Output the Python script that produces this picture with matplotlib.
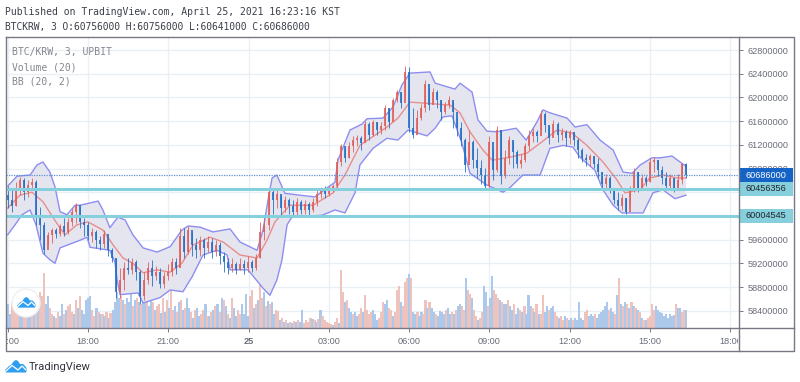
"""BTC/KRW 3-minute chart with volume and Bollinger bands, TradingView look."""
import numpy as np
import matplotlib
matplotlib.use("Agg")
import matplotlib.pyplot as plt
from matplotlib.patches import Rectangle, Circle, Polygon
from matplotlib.transforms import Bbox

W, H = 800, 382
MONO = "DejaVu Sans Mono"
SANS = "Liberation Sans"

# price in millions of KRW, time in hours after 15:00 on April 24
closes = [
    60.27, 60.17, 60.44, 60.61, 60.41, 60.52, 60.57, 60.02, 59.85, 59.42,
    59.68, 59.76, 59.69, 59.83, 59.73, 59.90, 60.07, 60.18, 59.90, 59.85,
    59.66, 59.73, 59.59, 59.52, 59.69, 59.42, 59.29, 58.72, 58.92, 59.12,
    59.09, 59.22, 59.05, 58.65, 58.92, 59.12, 58.98, 59.05, 58.85, 58.98,
    59.05, 59.22, 59.12, 59.66, 59.39, 59.76, 59.51, 59.42, 59.59, 59.46,
    59.56, 59.39, 59.51, 59.32, 59.22, 59.12, 59.19, 59.09, 59.19, 59.12,
    59.22, 59.12, 59.29, 59.73, 59.85, 60.41, 60.27, 60.37, 60.13, 60.27,
    60.17, 60.07, 60.24, 60.10, 60.20, 60.10, 60.24, 60.37, 60.44, 60.37,
    60.44, 60.50, 60.91, 61.18, 60.98, 61.18, 61.28, 61.32, 61.23, 61.55,
    61.37, 61.59, 61.45, 61.52, 61.82, 61.59, 61.96, 62.09, 61.91, 62.43,
    61.48, 61.37, 61.65, 61.82, 62.23, 61.87, 62.09, 61.96, 61.75, 61.87,
    61.96, 61.75, 61.48, 61.28, 60.86, 61.25, 60.94, 60.81, 60.69, 60.50,
    61.25, 60.77, 61.45, 60.67, 60.98, 61.28, 61.08, 60.87, 60.94, 61.18,
    61.35, 61.42, 61.35, 61.72, 61.53, 61.32, 61.55, 61.37, 61.42, 61.32,
    61.42, 61.28, 61.11, 60.98, 60.94, 61.01, 60.87, 60.74, 60.54, 60.64,
    60.47, 60.27, 60.17, 60.30, 60.07, 60.44, 60.74, 60.47, 60.64, 60.57,
    60.91, 60.94, 60.77, 60.64, 60.50, 60.64, 60.47, 60.61, 60.87, 60.686,
]
highs = [
    60.50, 60.44, 60.57, 60.66, 60.64, 60.61, 60.64, 60.61, 60.15, 59.90,
    59.73, 59.80, 59.80, 59.86, 59.97, 59.97, 60.13, 60.22, 60.15, 59.97,
    59.90, 59.80, 59.76, 59.66, 59.76, 59.59, 59.46, 59.29, 59.12, 59.22,
    59.29, 59.29, 59.26, 59.09, 59.05, 59.22, 59.26, 59.15, 59.12, 59.05,
    59.19, 59.29, 59.29, 59.80, 59.80, 59.83, 59.73, 59.63, 59.66, 59.63,
    59.66, 59.63, 59.59, 59.56, 59.39, 59.29, 59.29, 59.22, 59.29, 59.26,
    59.32, 59.26, 59.35, 59.90, 59.97, 60.47, 60.47, 60.44, 60.34, 60.34,
    60.30, 60.27, 60.30, 60.27, 60.27, 60.24, 60.30, 60.44, 60.49, 60.50,
    60.50, 60.54, 60.98, 61.21, 61.15, 61.25, 61.35, 61.37, 61.35, 61.60,
    61.59, 61.62, 61.59, 61.59, 61.87, 61.82, 61.99, 62.13, 62.09, 62.53,
    62.51, 61.82, 61.79, 61.89, 62.29, 62.16, 62.16, 62.13, 61.96, 61.92,
    62.02, 61.92, 61.65, 61.59, 61.32, 61.45, 61.28, 61.15, 60.94, 60.81,
    61.35, 61.11, 61.52, 61.45, 61.11, 61.35, 61.25, 61.11, 61.04, 61.23,
    61.45, 61.48, 61.45, 61.79, 61.75, 61.52, 61.62, 61.59, 61.48, 61.45,
    61.45, 61.42, 61.32, 61.15, 61.04, 61.04, 61.01, 60.98, 60.74, 60.71,
    60.67, 60.47, 60.40, 60.37, 60.30, 60.50, 60.81, 60.74, 60.71, 60.67,
    60.98, 61.00, 60.94, 60.84, 60.74, 60.71, 60.64, 60.71, 60.89, 60.90,
]
lows = [
    60.13, 60.07, 60.17, 60.35, 60.27, 60.32, 60.44, 59.85, 59.59, 59.35,
    59.52, 59.54, 59.63, 59.66, 59.66, 59.69, 59.83, 59.88, 59.80, 59.66,
    59.59, 59.56, 59.46, 59.42, 59.46, 59.32, 59.22, 58.61, 58.61, 58.75,
    59.02, 59.02, 58.92, 58.51, 58.58, 58.85, 58.82, 58.92, 58.78, 58.78,
    58.92, 58.98, 59.02, 59.22, 59.29, 59.35, 59.32, 59.29, 59.32, 59.29,
    59.39, 59.29, 59.32, 59.19, 59.05, 59.02, 59.05, 59.02, 59.09, 59.02,
    59.05, 59.05, 59.09, 59.29, 59.59, 59.76, 60.03, 60.13, 60.00, 60.07,
    60.03, 60.00, 60.00, 60.03, 60.03, 60.00, 60.07, 60.17, 60.30, 60.30,
    60.34, 60.40, 60.44, 60.84, 60.91, 60.98, 61.08, 61.18, 61.11, 61.28,
    61.28, 61.35, 61.37, 61.38, 61.45, 61.48, 61.75, 61.92, 61.82, 62.02,
    61.42, 61.32, 61.38, 61.62, 61.75, 61.79, 61.89, 61.82, 61.62, 61.72,
    61.82, 61.48, 61.35, 61.18, 60.74, 60.98, 60.81, 60.64, 60.54, 60.47,
    60.47, 60.61, 60.74, 60.54, 60.64, 60.87, 60.81, 60.81, 60.81, 60.91,
    61.11, 61.25, 61.25, 61.45, 61.42, 61.21, 61.38, 61.25, 61.28, 61.18,
    61.21, 61.18, 60.98, 60.91, 60.84, 60.84, 60.81, 60.64, 60.47, 60.44,
    60.38, 60.20, 60.10, 60.10, 60.03, 60.24, 60.40, 60.40, 60.44, 60.50,
    60.57, 60.74, 60.67, 60.54, 60.44, 60.44, 60.40, 60.44, 60.54, 60.64,
]
first_open = 60.35

# bar heights in chart pixels, sign is the bar colour (+ red up, - blue down)
volumes = [
    -24, -14, 26, 24, 22, 18, -14, -16, 20, 18, -12, -14, 20, -20, 16, -28, 36, 32, 55, -24,
    -32, 20, 14, -12, 10, 16, -12, -24, 14, -18, 22, 24, 16, -14, 28, -20, 32, -18, -14, -28,
    -30, -32, 18, 12, -20, 16, -14, 14, -12, 16, -10, 15, -18, -26, -36, -30, 32, -28, 24, -30,
    -26, -34, 22, -28, 30, -26, 24, -34, -30, 28, -22, -32, 26, -18, 22, 24, -15, 30, -16, 28,
    -20, 58, 18, -22, 16, -26, 28, -18, 20, -30, -20, 16, -10, 18, -20, -12, 14, 18, -24, 12,
    -12, 16, -18, 22, -24, 16, -30, 28, -22, 14, -10, 30, -20, -12, 18, 14, -24, -14, -34, -12,
    32, 38, -20, 24, -28, 46, 30, -36, 22, -27, 24, -26, -14, 18, 17, -8, 10, -6, 8, -5,
    6, -5, 7, -6, 8, -6, -18, 5, 8, 6, 10, -9, 8, -6, 9, -18, 12, 8, 6, 5,
    4, -3, 6, 10, -5, 58, 36, -26, 28, -20, -16, 14, -16, -12, 14, 20, -16, 33, 18, 14,
    16, -18, -14, -8, 10, 16, 26, -24, -28, 20, 18, -12, 16, 38, 42, -26, 22, 46, 50, -54,
    50, -16, -14, 16, -12, -16, 14, 28, -20, 26, -20, -16, 14, -12, -17, -16, -14, 18, -20, -14,
    16, -14, 18, -22, -24, 22, 18, -50, 38, 34, -30, 18, 12, -8, 10, 16, -42, -36, 22, -30,
    -52, 38, 34, 30, -28, 26, -24, -24, 28, -22, -18, 24, -14, -20, 18, -16, 22, -14, -33, -22,
    20, -16, 24, -14, 14, 33, -16, -22, 18, -20, -22, 16, 12, -10, 12, 8, -12, 10, -8, -10,
    8, -10, -8, -26, -10, -8, 16, 18, -12, -14, -12, 14, -10, -14, -16, -18, -22, -26, 18, -20,
    -16, 14, -33, 50, -24, 22, -26, 24, -20, 26, -22, 20, -18, 16, -10, 8, -8, 10, 12, 24,
    18, -22, -18, -16, -15, -12, -14, -10, -14, -12, -13, 24, -20, -20, 16, 18, -18,
]

upper_t = [
    0.00, 0.35, 0.84, 1.10, 1.32, 1.58, 1.77, 1.96, 2.22, 2.52, 2.71, 3.38, 3.56, 3.82, 4.12,
    4.39, 4.68, 5.06, 5.58, 6.07, 6.51, 6.74, 7.19, 7.67, 8.31, 8.68, 9.32, 9.54, 9.73, 9.88,
    10.06, 10.36, 10.92, 11.48, 12.23, 12.34, 12.79, 13.24, 13.43, 14.02, 14.40, 14.73, 15.03,
    15.78, 15.97, 16.71, 16.90, 17.35, 17.57, 17.91, 18.28, 19.00, 19.37, 19.78, 20.00, 20.26,
    20.90, 21.20, 21.64, 22.13, 22.62, 22.99, 23.33, 23.63, 24.07, 24.37, 24.82, 25.12, 25.34,
]
upper = [
    60.50, 60.67, 60.69, 60.86, 60.91, 60.74, 60.49, 60.07, 60.02, 60.18, 60.18, 60.25, 60.10, 59.80, 59.98,
    59.93, 59.68, 59.46, 59.39, 59.48, 59.76, 59.83, 59.81, 59.73, 59.78, 59.56, 59.42, 59.76, 60.27, 60.64,
    60.69, 60.38, 60.35, 60.32, 60.57, 60.94, 61.45, 61.55, 61.64, 61.65, 61.84, 62.21, 62.41,
    62.43, 62.24, 62.14, 62.24, 62.09, 61.62, 61.43, 61.42, 61.48, 61.28, 61.59, 61.79, 61.74,
    61.65, 61.50, 61.54, 61.28, 61.11, 60.74, 60.72, 60.86, 60.98, 60.98, 61.01, 60.91, 60.84,
]
lower_t = [
    0.00, 0.28, 0.54, 0.84, 1.06, 1.32, 1.58, 1.77, 1.96, 2.71, 2.97, 3.08, 3.82, 4.01, 4.09,
    4.20, 4.87, 5.06, 5.69, 6.07, 6.55, 6.89, 7.30, 7.82, 8.20, 8.31, 8.98, 9.54, 9.80, 10.06,
    10.25, 10.44, 10.62, 11.74, 12.23, 12.60, 12.98, 13.16, 13.65, 14.17, 14.58, 14.96, 15.67,
    15.97, 16.26, 16.60, 16.97, 17.27, 17.91, 18.51, 18.77, 19.25, 19.89, 20.26, 20.75, 21.12,
    21.38, 21.94, 22.24, 22.62, 22.95, 23.74, 24.11, 24.48, 24.93, 25.34,
]
lower = [
    59.68, 59.85, 60.02, 60.10, 59.85, 59.37, 59.26, 59.20, 59.46, 59.59, 59.64, 59.47, 59.42, 59.22, 58.92,
    58.67, 58.70, 58.53, 58.62, 58.75, 58.72, 58.97, 59.34, 59.42, 59.34, 59.09, 59.09, 58.78, 58.66, 58.92,
    59.26, 59.85, 59.98, 60.01, 60.10, 60.05, 60.39, 60.86, 61.14, 61.31, 61.28, 61.45, 61.35,
    61.48, 61.67, 61.69, 61.23, 60.72, 60.52, 60.40, 60.48, 60.69, 60.69, 61.14, 61.19, 61.16,
    60.99, 60.77, 60.44, 60.18, 60.05, 60.05, 60.39, 60.44, 60.29, 60.35,
]
basis_t = [
    0.00, 0.46, 0.91, 1.32, 1.70, 2.14, 2.59, 3.00, 3.56, 3.94, 4.31, 4.68, 5.06, 5.58, 6.07,
    6.51, 6.93, 7.56, 8.05, 8.68, 9.32, 9.69, 9.99, 10.55, 11.41, 12.16, 12.60, 13.16, 14.17,
    14.58, 15.03, 15.67, 16.53, 16.90, 17.27, 17.76, 18.10, 18.77, 19.40, 19.96, 20.53, 21.08,
    21.64, 22.24, 22.76, 23.06, 23.62, 23.99, 24.48, 25.00, 25.34,
]
basis = [
    60.13, 60.35, 60.40, 60.24, 59.97, 59.68, 59.85, 59.90, 59.76, 59.51, 59.29, 59.20, 59.04, 59.09, 59.05,
    59.20, 59.51, 59.64, 59.56, 59.34, 59.29, 59.59, 59.90, 60.18, 60.18, 60.39, 60.69, 61.19, 61.50,
    61.65, 61.92, 61.90, 61.87, 61.74, 61.42, 61.11, 60.94, 60.99, 61.06, 61.25, 61.45, 61.40,
    61.19, 60.91, 60.61, 60.39, 60.44, 60.64, 60.69, 60.64, 60.64,
]

last_price = 60686000
levels = [60456356, 60004545]
y_ticks = [58400000 + 400000 * i for i in range(12)]
hidden_ticks = [60000000, 60400000]     # sit fully behind the level tags
x_hours = [0, 3, 6, 9, 12, 15, 18, 21, 24, 27]
x_labels = ["15:00", "18:00", "21:00", "25", "03:00", "06:00", "09:00", "12:00", "15:00", "18:00"]
headers = [
    ("Published on TradingView.com, April 25, 2021 16:23:16 KST", 7.03),
    ("BTCKRW, 3 O:60756000 H:60756000 L:60641000 C:60686000", 6.9),
]
legend_rows = ["BTC/KRW, 3, UPBIT", "Volume (20)", "BB (20, 2)"]

UP, DOWN = "#e0605c", "#2670c6"
UP_VOL, DOWN_VOL = "#efc3bd", "#acc9eb"
GRID = "#e8f0f6"
FRAME = "#777a85"
TEAL = "#86d0dd"
LAST_BLUE = "#1563c4"
TXT = "#6a6d78"

# pane edges in pixels
L, R, T, B = 5.5, 739.0, 36.5, 328.3
RIGHT_EDGE = 794.0
PX_PER_HOUR = 26.77
PRICE_PER_PX = 16878.0
X0 = 7.6
Y_REF = 310.7


def logo(ax, x0, y0, s=1.0):
    pts = [(0, 10), (4, 6), (6, 5), (9, 1), (11, 0), (13, 1), (15, 4), (18, 4),
           (21, 7), (22, 10), (21, 12.5), (1, 12.5)]
    ax.add_patch(Polygon([(x0 + a * s, y0 + b * s) for a, b in pts], closed=True,
                         color="#2e9ff0", lw=0))
    zig = [(1, 11), (7, 5.5), (13, 10), (17, 6), (21, 10)]
    ax.plot([x0 + a * s for a, _ in zig], [y0 + b * s for _, b in zig], color="white", lw=0.9)


def main():
    fig = plt.figure(figsize=(W / 100, H / 100), dpi=100, facecolor="white")
    ax = fig.add_axes([L / W, 1 - B / H, (R - L) / W, (B - T) / H])
    ax.set_xlim((L - X0) / PX_PER_HOUR, (R - X0) / PX_PER_HOUR)
    ymin = 58400000 + (Y_REF - B) * PRICE_PER_PX
    ymax = 58400000 + (Y_REF - T) * PRICE_PER_PX
    ax.set_ylim(ymin, ymax)

    ax.set_yticks(y_ticks)
    ax.set_xticks(x_hours)
    ax.grid(color=GRID, lw=1.0)
    ax.set_axisbelow(True)
    ax.yaxis.tick_right()
    ax.tick_params(axis="y", length=3, width=0.7, color=FRAME, labelsize=6.6,
                   labelcolor=TXT, pad=3)
    ax.tick_params(axis="x", length=3, width=0.7, color=FRAME, labelbottom=False)
    ax.set_yticklabels(["" if v in hidden_ticks else str(v) for v in y_ticks], family=SANS)
    for s in ax.spines.values():
        s.set_visible(False)

    # volume sits at the foot of the pane
    vols = np.array(volumes, dtype=float)
    vol_t = np.linspace(0, 25.34, len(vols))
    ax.bar(vol_t, np.abs(vols) * PRICE_PER_PX, width=0.08, bottom=ymin, zorder=1,
           color=[UP_VOL if v > 0 else DOWN_VOL for v in vols], lw=0)

    # bollinger bands
    ax.fill(np.r_[upper_t, lower_t[::-1]], np.r_[upper, lower[::-1]] * 1e6,
            color="#e5e5f0", lw=0, zorder=2)
    ax.plot(upper_t, np.array(upper) * 1e6, color="#8e8ef0", lw=1.0, zorder=3)
    ax.plot(lower_t, np.array(lower) * 1e6, color="#8e8ef0", lw=1.0, zorder=3)
    ax.plot(basis_t, np.array(basis) * 1e6, color="#e88e8c", lw=1.0, zorder=3)

    # candles, each opening at the previous close
    c = np.array(closes) * 1e6
    o = np.r_[first_open * 1e6, c[:-1]]
    t = np.linspace(0, 25.34, len(c))
    cols = [UP if a >= b else DOWN for a, b in zip(c, o)]
    ax.vlines(t, np.array(lows) * 1e6, np.array(highs) * 1e6, colors=cols, lw=0.6, zorder=4)
    ax.vlines(t, o, c, colors=cols, lw=1.25, zorder=4)

    # price lines
    ax.axhline(last_price, color="#5f8fd0", lw=0.9, ls=(0, (1, 1)), zorder=5)
    for v in levels:
        ax.axhline(v, color=TEAL, lw=2.2, zorder=5)

    # price tags on the axis
    trans = ax.get_yaxis_transform()
    tag_w = (793 - R) / (R - L)
    tag_h = 7 * PRICE_PER_PX
    for v, face, col in [(levels[0], TEAL, "#20222c"), (levels[1], TEAL, "#20222c"),
                         (last_price, LAST_BLUE, "white")]:
        ax.add_patch(Rectangle((1.0, v - tag_h), tag_w, 2 * tag_h, transform=trans, color=face,
                               lw=0, clip_on=False, zorder=8))
        ax.text(1 + 7 / (R - L), v, str(v), transform=trans, color=col, fontsize=6.6,
                family=SANS, va="center", ha="left", zorder=9, clip_on=False)

    # time labels, clipped at the pane sides like the source
    clip = Bbox.from_extents(7, 0, R - 1, H)
    xtrans = ax.get_xaxis_transform()
    for h, lab in zip(x_hours, x_labels):
        lb = ax.text(h, -12.8 / (B - T), lab, transform=xtrans, color=TXT, fontsize=6.6,
                     family=SANS, ha="center", va="center",
                     weight="bold" if lab == "25" else "normal")
        lb.set_clip_on(True)
        lb.set_clip_box(clip)

    # everything outside the data, laid out in pixels
    page = fig.add_axes([0, 0, 1, 1], zorder=10)
    page.set_xlim(0, W)
    page.set_ylim(H, 0)
    page.axis("off")
    page.patch.set_alpha(0)
    page.plot([L, RIGHT_EDGE, RIGHT_EDGE, L, L], [T, T, 351, 351, T], color=FRAME, lw=1.0)
    page.plot([L, RIGHT_EDGE], [B, B], color=FRAME, lw=1.0)
    page.plot([R, R], [T, 351], color=FRAME, lw=1.0)

    for y, (s, size) in zip([12.3, 26.7], headers):
        page.text(5, y, s, family=MONO, fontsize=size, color="#3c3f4a", va="center")
    for y, s in zip([52, 67, 81], legend_rows):
        page.text(12.5, y, s, family=MONO, fontsize=7.0, color="#83868f", va="center")

    page.add_patch(Circle((26, 303), 14, fc="white", ec="#eef0f3", lw=1.0))
    logo(page, 17, 297, 0.85)
    logo(page, 5, 360)
    page.text(29, 366.5, "TradingView", family="Roboto", fontsize=8.0, color="#33353f", va="center")

    fig.savefig("out.png", dpi=100, facecolor="white")


if __name__ == "__main__":
    main()
